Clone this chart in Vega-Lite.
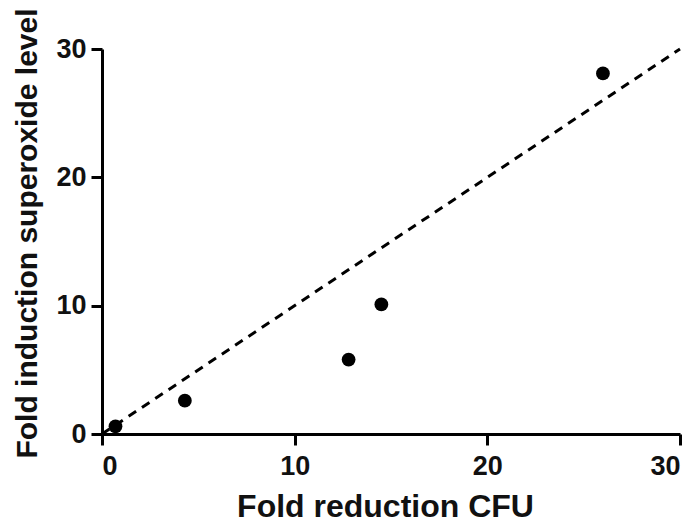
{
  "$schema": "https://vega.github.io/schema/vega-lite/v6.json",
  "autosize": "none",
  "width": 578,
  "height": 385,
  "padding": {"left": 102, "top": 49, "right": 19, "bottom": 92},
  "background": "white",
  "config": {
    "view": {"stroke": null},
    "font": "Liberation Sans",
    "axis": {
      "grid": false,
      "domainColor": "black",
      "domainWidth": 3,
      "tickColor": "black",
      "tickWidth": 3,
      "tickSize": 11,
      "labelFont": "Liberation Sans",
      "labelFontSize": 27,
      "labelFontWeight": "bold",
      "labelColor": "#111",
      "titleFont": "Liberation Sans",
      "titleFontWeight": "bold",
      "titleColor": "#111"
    }
  },
  "datasets": {
    "pts": [
      {"cfu": 0.7, "superoxide": 0.6},
      {"cfu": 4.3, "superoxide": 2.6},
      {"cfu": 12.8, "superoxide": 5.8},
      {"cfu": 14.5, "superoxide": 10.1},
      {"cfu": 26.0, "superoxide": 28.1}
    ],
    "fit": [
      {"cfu": 0, "superoxide": 0},
      {"cfu": 30, "superoxide": 30}
    ]
  },
  "layer": [
    {
      "data": {"name": "fit"},
      "mark": {"type": "line", "color": "black", "strokeWidth": 3, "strokeDash": [9, 7]},
      "encoding": {
        "x": {"field": "cfu", "type": "quantitative", "scale": {"domain": [0, 30], "nice": false},
          "axis": {"title": "Fold reduction CFU", "titleFontSize": 32, "values": [0, 10, 20, 30], "labelPadding": 8, "titleY": 82, "titleBaseline": "alphabetic", "titleX": 283, "titleAnchor": null, "titleAlign": "center"}},
        "y": {"field": "superoxide", "type": "quantitative", "scale": {"domain": [0, 30], "nice": false},
          "axis": {"title": "Fold induction superoxide level", "titleFontSize": 30, "values": [0, 10, 20, 30], "labelPadding": 5, "titleX": -66, "titleY": 184, "titleAngle": -90, "titleAlign": "center", "titleBaseline": "alphabetic"}}
      }
    },
    {
      "data": {"name": "pts"},
      "mark": {"type": "point", "filled": true, "color": "black", "opacity": 1, "size": 190},
      "encoding": {
        "x": {"field": "cfu", "type": "quantitative"},
        "y": {"field": "superoxide", "type": "quantitative"}
      }
    }
  ]
}
